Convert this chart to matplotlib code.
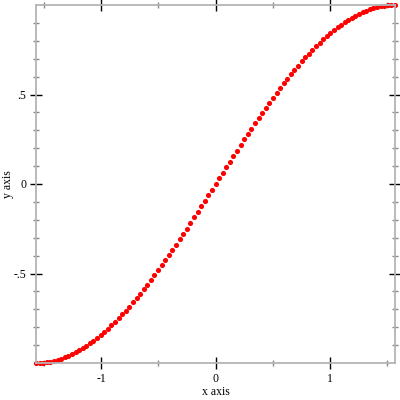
import matplotlib
matplotlib.use("Agg")
import matplotlib.pyplot as plt
from matplotlib.ticker import FixedLocator


x_values = [
	-1.571, -1.539, -1.508, -1.477, -1.445, -1.414, -1.382, -1.351, -1.319, -1.288,
	-1.257, -1.225, -1.194, -1.162, -1.131, -1.100, -1.068, -1.037, -1.005, -0.974,
	-0.942, -0.911, -0.880, -0.848, -0.817, -0.785, -0.754, -0.723, -0.691, -0.660,
	-0.628, -0.597, -0.565, -0.534, -0.503, -0.471, -0.440, -0.408, -0.377, -0.346,
	-0.314, -0.283, -0.251, -0.220, -0.188, -0.157, -0.126, -0.094, -0.063, -0.031,
	0.000,
	0.031, 0.063, 0.094, 0.126, 0.157, 0.188, 0.220, 0.251, 0.283, 0.314,
	0.346, 0.377, 0.408, 0.440, 0.471, 0.503, 0.534, 0.565, 0.597, 0.628,
	0.660, 0.691, 0.723, 0.754, 0.785, 0.817, 0.848, 0.880, 0.911, 0.942,
	0.974, 1.005, 1.037, 1.068, 1.100, 1.131, 1.162, 1.194, 1.225, 1.257,
	1.288, 1.319, 1.351, 1.382, 1.414, 1.445, 1.477, 1.508, 1.539, 1.571,
]
y_values = [
	-1.000, -0.9995, -0.998, -0.996, -0.992, -0.988, -0.982, -0.976, -0.969, -0.960,
	-0.951, -0.941, -0.930, -0.918, -0.905, -0.891, -0.876, -0.861, -0.844, -0.827,
	-0.809, -0.790, -0.771, -0.750, -0.729, -0.707, -0.685, -0.661, -0.637, -0.613,
	-0.588, -0.562, -0.536, -0.509, -0.482, -0.454, -0.426, -0.397, -0.368, -0.339,
	-0.309, -0.279, -0.249, -0.218, -0.187, -0.156, -0.125, -0.094, -0.063, -0.031,
	0.000,
	0.031, 0.063, 0.094, 0.125, 0.156, 0.187, 0.218, 0.249, 0.279, 0.309,
	0.339, 0.368, 0.397, 0.426, 0.454, 0.482, 0.509, 0.536, 0.562, 0.588,
	0.613, 0.637, 0.661, 0.685, 0.707, 0.729, 0.750, 0.771, 0.790, 0.809,
	0.827, 0.844, 0.861, 0.876, 0.891, 0.905, 0.918, 0.930, 0.941, 0.951,
	0.960, 0.969, 0.976, 0.982, 0.988, 0.992, 0.996, 0.998, 0.9995, 1.000,
]

x_major = [-1, 0, 1]
x_major_labels = ["-1", "0", "1"]
x_minor = [-1.5, -0.5, 0.5, 1.5]
y_major = [-0.5, 0, 0.5]
y_major_labels = ["-.5", "0", ".5"]
y_minor = [-0.9, -0.8, -0.7, -0.6, -0.4, -0.3, -0.2, -0.1,
	0.1, 0.2, 0.3, 0.4, 0.6, 0.7, 0.8, 0.9]

plt.rcParams['font.family'] = ['Liberation Serif', 'DejaVu Serif']

fig = plt.figure(figsize=(4, 4), dpi=100)
ax = fig.add_axes([0.09, 0.0925, 0.8975, 0.895])

ax.plot(x_values, y_values, linestyle='none', marker='o', markersize=3.7,
	color='red', markeredgewidth=0, clip_on=False)

ax.set_xlim(-1.5708, 1.5708)
ax.set_ylim(-1, 1)

for side in ax.spines.values():
	side.set_color('#b4b4b4')
	side.set_linewidth(1.3)

ax.xaxis.set_major_locator(FixedLocator(x_major))
ax.set_xticklabels(x_major_labels)
ax.xaxis.set_minor_locator(FixedLocator(x_minor))
ax.yaxis.set_major_locator(FixedLocator(y_major))
ax.set_yticklabels(y_major_labels)
ax.yaxis.set_minor_locator(FixedLocator(y_minor))

ax.tick_params(which='both', direction='inout', top=True, right=True,
	labelsize=8.5, pad=3)
ax.tick_params(which='major', length=8, width=1, color='black')
ax.tick_params(which='minor', length=4, width=1, color='#888888')

ax.set_xlabel("x axis", fontsize=8.5, labelpad=1)
ax.set_ylabel("y axis", fontsize=8.5, labelpad=0)

fig.savefig("out.png", dpi=100)
